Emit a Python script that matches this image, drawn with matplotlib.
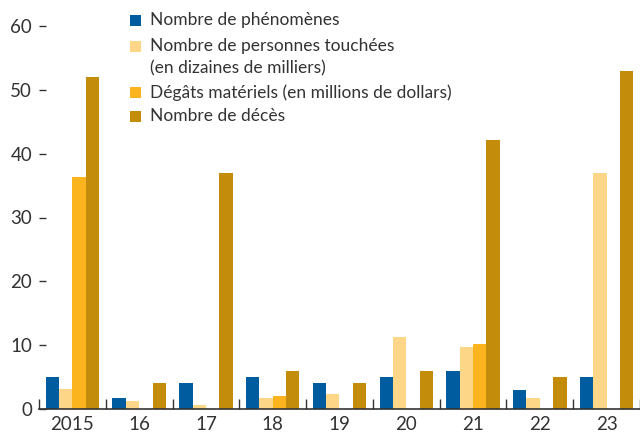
import numpy as np
import matplotlib
matplotlib.use('Agg')
import matplotlib.pyplot as plt
from matplotlib.patches import Rectangle

plt.rcParams['font.family'] = ['Lato', 'DejaVu Sans']

years = ['2015', '16', '17', '18', '19', '20', '21', '22', '23']
phenomenes = [5, 1.8, 4, 5, 4, 5, 6, 3, 5]
personnes = [3.2, 1.2, 0.7, 1.7, 2.3, 11.3, 9.7, 1.8, 37]
degats = [36.3, 0, 0, 2.1, 0, 0, 10.2, 0, 0]
deces = [52, 4, 36.9, 6, 4, 6, 42.2, 5, 53]

series = [phenomenes, personnes, degats, deces]
labels = ['Nombre de phénomènes',
          'Nombre de personnes touchées\n(en dizaines de milliers)',
          'Dégâts matériels (en millions de dollars)',
          'Nombre de décès']
colors = ['#005c9e', '#fdd687', '#fbb31e', '#c48c0b']

fig = plt.figure(figsize=(6.4, 4.37), dpi=100)
ax = fig.add_axes([39 / 640, 28 / 437, 601 / 640, 383 / 437])

x = np.arange(len(years))
w = 0.2
for k, (vals, col) in enumerate(zip(series, colors)):
    ax.bar(x + (k - 1.5) * w, vals, width=w, color=col, linewidth=0)

ax.set_ylim(0, 60)
ax.set_xlim(-0.5, (640 - 39) / 67.8 - 0.5)
ax.set_yticks(range(0, 61, 10))
ax.set_xticks(x)
ax.set_xticklabels(years)
ax.set_xticks(np.arange(-0.5, len(years), 1), minor=True)

for s in ['left', 'right', 'top']:
    ax.spines[s].set_visible(False)
ax.spines['bottom'].set_color('#333333')
ax.spines['bottom'].set_linewidth(1.2)

ax.tick_params(axis='y', direction='in', length=5, width=1, color='#333333',
               pad=5, labelsize=13.5, labelcolor='#333333')
ax.tick_params(axis='x', which='major', length=0, pad=5, labelsize=13.5,
               labelcolor='#333333')
ax.tick_params(axis='x', which='minor', direction='in', length=7, width=1,
               color='#333333')

# legend drawn by hand so the square sits on the first line
ys = [20, 46, 92, 116]
for lab, col, yy in zip(labels, colors, ys):
    fig.patches.append(Rectangle((130 / 640, 1 - (yy + 6) / 437), 11 / 640, 11 / 437,
                                 transform=fig.transFigure, color=col, linewidth=0))
    fig.text(150 / 640, 1 - (yy - 8) / 437, lab, fontsize=12.5, color='#333333',
             va='top', linespacing=1.45)

fig.savefig('out.png', dpi=100)
